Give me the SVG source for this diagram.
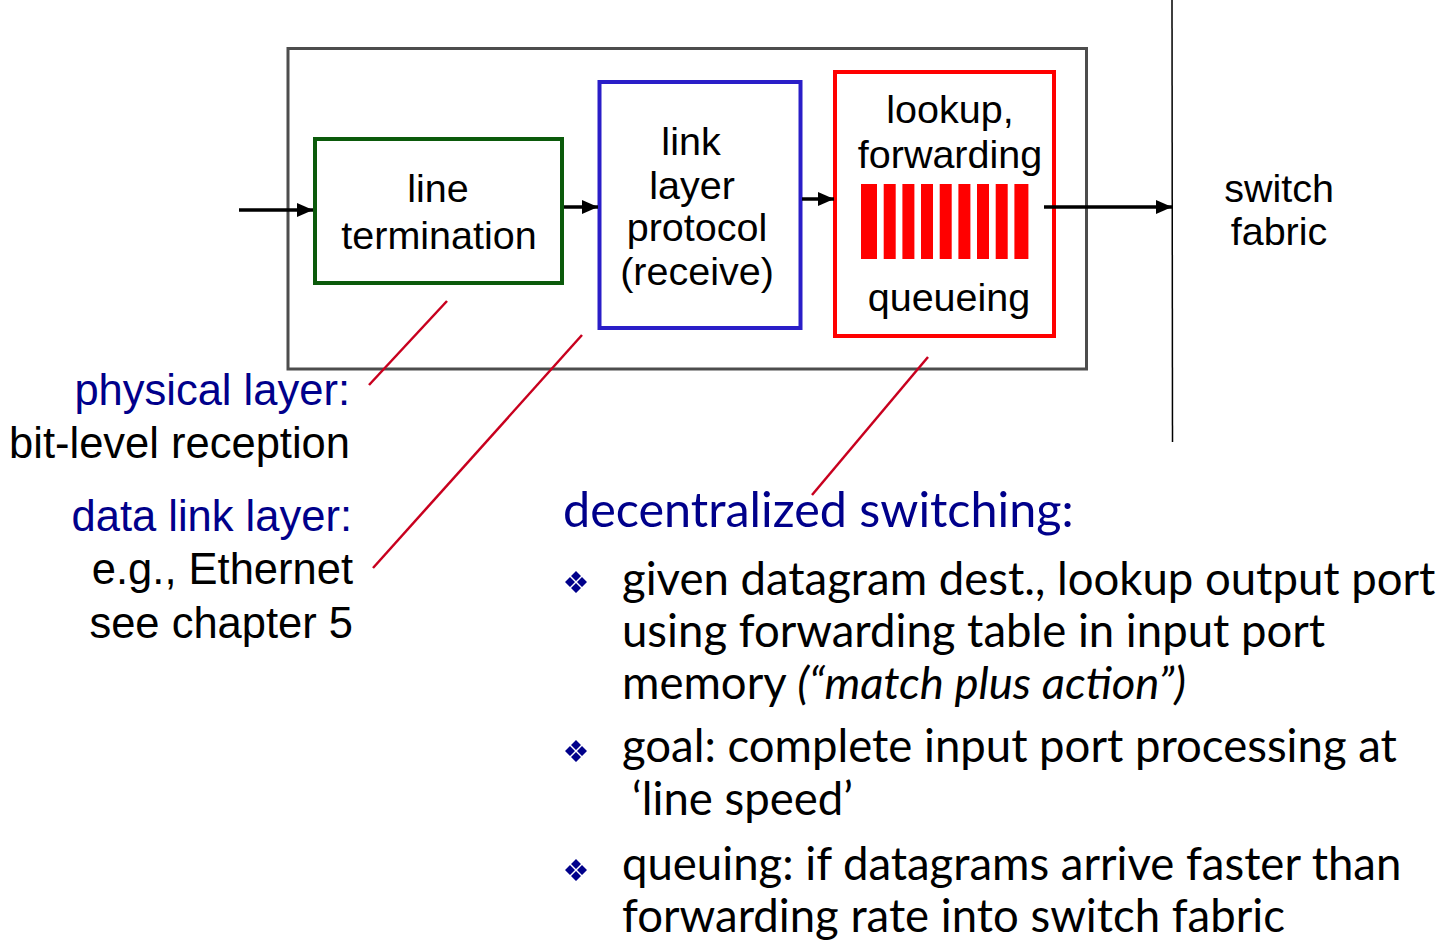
<svg xmlns="http://www.w3.org/2000/svg" width="1448" height="952" viewBox="0 0 1448 952">
<defs>
<style>
.box{font-family:"Liberation Sans",Arial,sans-serif;font-size:39.5px;fill:#000;text-anchor:middle}
.lbl{font-family:"Liberation Sans",Arial,sans-serif;font-size:43.5px;fill:#000;text-anchor:end}
.blue{fill:#00008b}
.gill{font-family:Lato,"Open Sans",sans-serif;font-size:45.5px;fill:#000}
.head{fill:#00008b;font-size:48.5px}
.conn{stroke:#000;stroke-width:3.5;fill:none}
.call{stroke:#c8001e;stroke-width:2.5;fill:none}
</style>
<marker id="ahb" markerWidth="16" markerHeight="14" refX="16" refY="7" orient="auto" markerUnits="userSpaceOnUse" viewBox="0 0 16 14">
<path d="M0,0 L16,7 L0,14 Z" fill="#000"/>
</marker>
<g id="bul">
<path d="M0,-11 L5,-6 L0,-1 L-5,-6 Z M0,1 L5,6 L0,11 L-5,6 Z M-6,-5 L-1,0 L-6,5 L-11,0 Z M6,-5 L11,0 L6,5 L1,0 Z" fill="#00008b"/>
</g>
</defs>
<rect width="1448" height="952" fill="#fff"/>

<g id="outer">
<rect x="288" y="48.5" width="798.5" height="320.5" fill="none" stroke="#4d4d4d" stroke-width="3"/>
</g>

<g id="switch-line">
<line x1="1172" y1="0" x2="1172.5" y2="442" stroke="#000" stroke-width="1.5"/>
</g>

<g id="line-termination">
<rect x="315" y="139" width="247" height="144" fill="none" stroke="#0b5a0b" stroke-width="4"/>
<text class="box" x="438" y="202">line</text>
<text class="box" x="439" y="249">termination</text>
</g>

<g id="link-layer">
<rect x="599.5" y="82" width="201" height="246" fill="none" stroke="#2a1ec8" stroke-width="4"/>
<text class="box" x="691" y="155">link</text>
<text class="box" x="692" y="199">layer</text>
<text class="box" x="697" y="241">protocol</text>
<text class="box" x="697" y="285">(receive)</text>
</g>

<g id="lookup">
<rect x="835" y="72" width="219" height="264" fill="none" stroke="#ff0000" stroke-width="4"/>
<text class="box" x="950" y="123">lookup,</text>
<text class="box" x="950" y="168">forwarding</text>
<text class="box" x="949" y="311">queueing</text>
<g fill="#ff0000">
<rect x="861" y="184" width="16" height="75"/>
<rect x="883.7" y="184" width="12" height="75"/>
<rect x="902.4" y="184" width="12" height="75"/>
<rect x="921" y="184" width="12" height="75"/>
<rect x="939.7" y="184" width="12" height="75"/>
<rect x="958.4" y="184" width="12" height="75"/>
<rect x="977" y="184" width="12" height="75"/>
<rect x="995.7" y="184" width="12" height="75"/>
<rect x="1014.4" y="184" width="14" height="75"/>
</g>
</g>

<g id="switch-fabric">
<text class="box" x="1279" y="202">switch</text>
<text class="box" x="1279" y="245">fabric</text>
</g>

<g id="connectors">
<line class="conn" x1="239" y1="210" x2="313" y2="210" marker-end="url(#ahb)"/>
<line class="conn" x1="564" y1="207" x2="598" y2="207" marker-end="url(#ahb)"/>
<line class="conn" x1="802" y1="199" x2="834" y2="199" marker-end="url(#ahb)"/>
<line class="conn" x1="1044" y1="207" x2="1172" y2="207" marker-end="url(#ahb)"/>
<line class="call" x1="447" y1="301" x2="369" y2="385"/>
<line class="call" x1="582" y1="335" x2="373" y2="568"/>
<line class="call" x1="928" y1="357" x2="812" y2="495"/>
</g>

<g id="left-labels">
<text class="lbl blue" x="350" y="405">physical layer:</text>
<text class="lbl" x="350" y="458">bit-level reception</text>
<text class="lbl blue" x="352" y="531">data link layer:</text>
<text class="lbl" x="353" y="584">e.g., Ethernet</text>
<text class="lbl" x="353" y="638">see chapter 5</text>
</g>

<g id="bullets">
<text class="gill head" x="563" y="527">decentralized switching:</text>
<use href="#bul" x="576" y="582"/>
<use href="#bul" x="576" y="751"/>
<use href="#bul" x="576" y="870"/>
<text class="gill" x="622" y="595">given datagram dest., lookup output port</text>
<text class="gill" x="622" y="647">using forwarding table in input port</text>
<text class="gill" x="622" y="699">memory <tspan font-style="italic">(“match plus action”)</tspan></text>
<text class="gill" x="622" y="762">goal: complete input port processing at</text>
<text class="gill" x="632" y="815">‘line speed’</text>
<text class="gill" x="622" y="880">queuing: if datagrams arrive faster than</text>
<text class="gill" x="622" y="932">forwarding rate into switch fabric</text>
</g>
</svg>
